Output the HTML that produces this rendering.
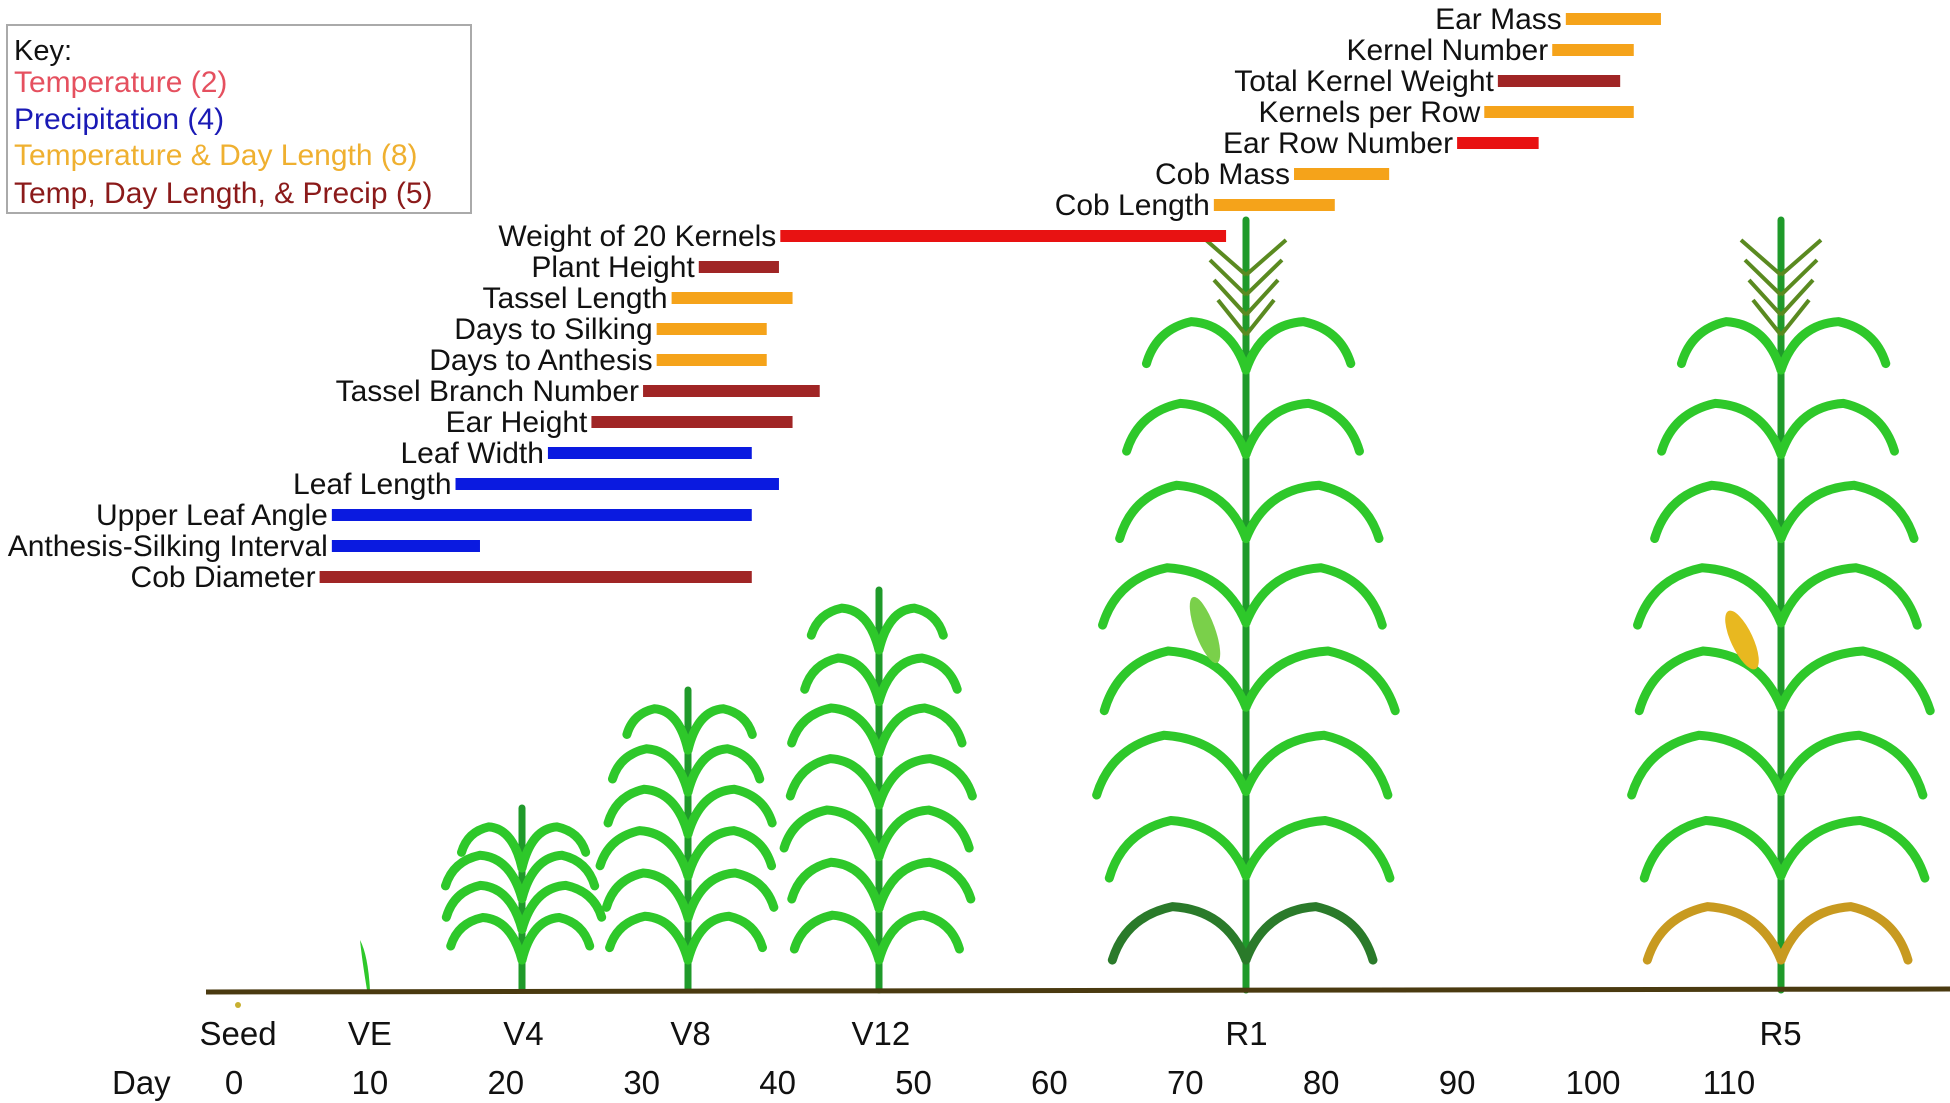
<!DOCTYPE html>
<html><head><meta charset="utf-8"><style>
body{margin:0;background:#fff;}
svg{display:block;font-family:"Liberation Sans",sans-serif;}
</style></head><body>
<svg id="chart" width="1950" height="1103" viewBox="0 0 1950 1103">
<g id="plants"></g>
<line x1="206" y1="992" x2="1950" y2="989" stroke="#4a3a10" stroke-width="5"/>
<circle cx="238" cy="1005" r="3" fill="#c8b030"/>
<g id="bars"></g>
<g id="axis"></g>
<g>
<rect x="7" y="25" width="464" height="188" fill="#fff" stroke="#aaa" stroke-width="2"/>
<text x="14" y="60" font-size="29" fill="#111">Key:</text>
<text x="14" y="92" font-size="30" fill="#e5505f">Temperature (2)</text>
<text x="14" y="129" font-size="30" fill="#1a1ab5">Precipitation (4)</text>
<text x="14" y="165" font-size="30" fill="#efb030">Temperature &amp; Day Length (8)</text>
<text x="14" y="203" font-size="30" fill="#8b1a1a">Temp, Day Length, &amp; Precip (5)</text>
</g>
</svg>
<script>
const traits = ["Cob Diameter","Anthesis-Silking Interval","Upper Leaf Angle","Leaf Length","Leaf Width","Ear Height","Tassel Branch Number","Days to Anthesis","Days to Silking","Tassel Length","Plant Height","Weight of 20 Kernels","Cob Length","Cob Mass","Ear Row Number","Kernels per Row","Total Kernel Weight","Kernel Number","Ear Mass"];
const startDays = [6.3,7.2,7.2,16.3,23.1,26.3,30.1,31.1,31.1,32.2,34.2,40.2,72.1,78,90,92,93,97,98];
const endDays = [38.1,18.1,38.1,40.1,38.1,41.1,43.1,39.2,39.2,41.1,40.1,73,81,85,96,103,102,103,105];
const categories = ["tdp","p","p","p","p","tdp","tdp","td","td","td","tdp","t","td","td","t","td","tdp","td","td"];
const dayTicks = [0,10,20,30,40,50,60,70,80,90,100,110];
const stageLabels = ["Seed","VE","V4","V8","V12","R1","R5"];
const stageDays = [0.3,10,21.3,33.6,47.6,74.5,113.8];
const colors = {t:"#e81212",p:"#0a1ae0",td:"#f5a31a",tdp:"#a02525"};
const NS="http://www.w3.org/2000/svg";
function x(d){return 234+d*13.59;}
function rowY(i){return 577-i*31.0;}
function mk(tag,attrs,parent){const e=document.createElementNS(NS,tag);for(const k in attrs)e.setAttribute(k,attrs[k]);parent.appendChild(e);return e;}
const bars=document.getElementById('bars');
traits.forEach((t,i)=>{
  const y=rowY(i);
  const r=mk('rect',{x:x(startDays[i]),y:y-6,width:x(endDays[i])-x(startDays[i]),height:12,fill:colors[categories[i]]},bars);
  
  
  const tx=mk('text',{x:x(startDays[i])-4,y:y+10,'font-size':30,'text-anchor':'end',fill:'#111'},bars);
  tx.textContent=t;
  
  
});
const axis=document.getElementById('axis');
const dl=mk('text',{x:112,y:1094,'font-size':33,fill:'#111'},axis);dl.textContent='Day';


dayTicks.forEach(d=>{const t=mk('text',{x:x(d),y:1094,'font-size':33,'text-anchor':'middle',fill:'#111'},axis);t.textContent=d;

});
stageLabels.forEach((s,i)=>{const t=mk('text',{x:x(stageDays[i]),y:1045,'font-size':33,'text-anchor':'middle',fill:'#111'},axis);t.textContent=s;

});
const P=document.getElementById('plants');
function leaf(g,cx,y,s,ww,h,col){
  mk('path',{d:`M${cx},${y+30} Q${cx+s*ww*0.15},${y-h*0.3} ${cx+s*ww*0.55},${y-h*0.35} Q${cx+s*ww*0.9},${y-h*0.2} ${cx+s*ww},${y+h*0.45}`,fill:'none',stroke:col,'stroke-width':9,'stroke-linecap':'round'},g);
}
function plant(cx,top,n,w,tassel,name,lowColor){
  const g=mk('g',{},P);
  
  
  mk('line',{x1:cx,y1:990,x2:cx,y2:top,stroke:'#1f9a2a','stroke-width':7,'stroke-linecap':'round'},g);
  const base=tassel?top+120:top+30;
  for(let k=0;k<n;k++){
    const y=990-60-(990-60-base)*k/Math.max(1,n-1);
    const ww=w*(0.75+0.25*Math.sin(Math.PI*k/n+0.6)); const h=ww*0.5;
    const col=(k===0&&lowColor)?lowColor:'#2ec82a';
    const s=k%2?1:-1;
    leaf(g,cx,y,s,ww,h,col);
    leaf(g,cx,y,-s,ww*0.95,h,col);
  }
  if(tassel){for(let j=0;j<4;j++){const yy=top+30+j*20;
    mk('line',{x1:cx,y1:yy+25,x2:cx-40+j*4,y2:yy-10,stroke:'#5a8a20','stroke-width':4},g);
    mk('line',{x1:cx,y1:yy+25,x2:cx+40-j*4,y2:yy-10,stroke:'#5a8a20','stroke-width':4},g);}}
  return g;
}
mk('path',{d:'M367,990 Q362,960 360,940 Q368,955 370,990 Z',fill:'#2ec82a'},P);
plant(522,808,4,80,false,'plant-v4');
plant(688,690,6,88,false,'plant-v8');
plant(879,590,7,95,false,'plant-v12');
plant(1246,220,8,150,true,'plant-r1','#2a7a2a');
plant(1781,220,8,150,true,'plant-r5','#c89a20');
mk('ellipse',{cx:1205,cy:630,rx:10,ry:35,fill:'#7ad04a',transform:'rotate(-20 1205 630)'},P);
mk('ellipse',{cx:1742,cy:640,rx:11,ry:32,fill:'#e8b820',transform:'rotate(-25 1742 640)'},P);
</script>
</body></html>
